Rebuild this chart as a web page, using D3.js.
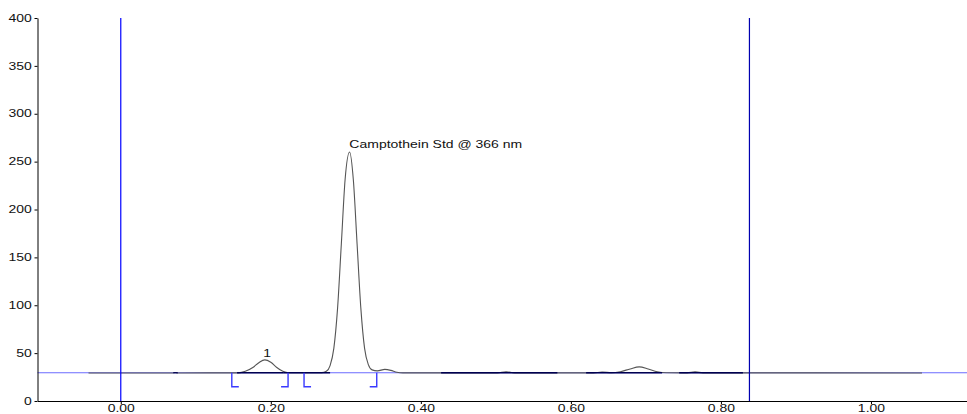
<!DOCTYPE html>
<html>
<head>
<meta charset="utf-8">
<script src="https://cdn.jsdelivr.net/npm/d3@7"></script>
<style>
  body { margin: 0; background: #fff; }
  svg { display: block; font-family: "Liberation Sans", Arial, sans-serif; }
</style>
</head>
<body>
<div id="chart"></div>
<script>
// Chromatogram trace (time in min, signal in mAU)
const traceTime = [
  -0.043, 0.069, 0.0725, 0.076, 0.157, 0.166, 0.176, 0.184, 0.192, 0.200, 0.208, 0.216, 0.224,
  0.268, 0.274, 0.279, 0.284, 0.289, 0.294, 0.299, 0.305, 0.310, 0.315, 0.320, 0.325, 0.330,
  0.335, 0.342, 0.352, 0.360, 0.368, 0.376, 0.502, 0.5136, 0.525, 0.630, 0.6416, 0.654,
  0.666, 0.679, 0.691, 0.703, 0.715, 0.727, 0.755, 0.7656, 0.776, 1.068
];
const traceSignal = [
  29.3, 29.3, 29.8, 29.3, 29.4, 31, 35, 40, 43, 40.5, 35, 31, 29.5,
  29.6, 31, 37, 55, 97, 164, 231, 260, 231, 164, 97, 55, 38,
  32.5, 31.5, 33, 32, 30, 29.4, 29.4, 30.6, 29.4, 29.4, 30.3, 29.5,
  30.6, 33.5, 35.6, 33.5, 30.6, 29.5, 29.4, 30.4, 29.4, 29.3
];

// Baseline level and window markers
const baselineLevel = 29.5;
const windowLines = [0, 0.838];

// Peak integration marks: start "[" and end "]"
const bracketTimes = [0.148, 0.223, 0.2443, 0.3412];
const bracketSides = ["start", "end", "start", "end"];

// Integrated baseline segments
const segStart = [0.070, 0.155, 0.2165, 0.427, 0.6203, 0.7443];
const segEnd = [0.076, 0.2165, 0.279, 0.582, 0.7216, 0.8293];

// Peak labels
const peakNames = ["1", "Camptothein Std @ 366 nm"];
const peakTimes = [0.195, 0.3047];
const peakLabelValues = [45.5, 264.5];

// Tick values
const xTicks = [0, 0.2, 0.4, 0.6, 0.8, 1.0];
const yTicks = [0, 50, 100, 150, 200, 250, 300, 350, 400];

const width = 967;
const height = 414;
const stretch = 1.4; // text in the source is wider than tall

const svg = d3
  .select("#chart")
  .append("svg")
  .attr("width", width)
  .attr("height", height);

const x = d3.scaleLinear().domain([-0.111, 1.128]).range([37.5, 967]);
const y = d3.scaleLinear().domain([0, 400]).range([401, 18]);

// full width baseline
svg
  .append("line")
  .attr("x1", x.range()[0])
  .attr("x2", x.range()[1])
  .attr("y1", y(baselineLevel))
  .attr("y2", y(baselineLevel))
  .attr("stroke", "#6b6bff")
  .attr("stroke-width", 1.2);

// trace
const line = d3
  .line()
  .x((d, i) => x(traceTime[i]))
  .y((d) => y(d))
  .curve(d3.curveMonotoneX);

svg
  .append("path")
  .datum(traceSignal)
  .attr("d", line)
  .attr("fill", "none")
  .attr("stroke", "#555")
  .attr("stroke-width", 1.1);

// integrated baseline segments
svg
  .selectAll(".seg")
  .data(segStart)
  .enter()
  .append("line")
  .attr("class", "seg")
  .attr("x1", (d) => x(d))
  .attr("x2", (d, i) => x(segEnd[i]))
  .attr("y1", y(baselineLevel))
  .attr("y2", y(baselineLevel))
  .attr("stroke", "#000050")
  .attr("stroke-width", 1.3);

// window lines
svg
  .selectAll(".win")
  .data(windowLines)
  .enter()
  .append("line")
  .attr("class", "win")
  .attr("x1", (d) => x(d))
  .attr("x2", (d) => x(d))
  .attr("y1", y(400))
  .attr("y2", y(0))
  .attr("stroke", (d, i) => (i === 0 ? "#0000ff" : "#0000b0"))
  .attr("stroke-width", 1.2);

// brackets
const drop = 14;
const arm = 7;
svg
  .selectAll(".bracket")
  .data(bracketTimes)
  .enter()
  .append("path")
  .attr("class", "bracket")
  .attr("d", (d, i) => {
    const bx = x(d);
    const by = y(baselineLevel);
    const dir = bracketSides[i] === "start" ? 1 : -1;
    return `M${bx},${by}V${by + drop}H${bx + dir * arm}`;
  })
  .attr("fill", "none")
  .attr("stroke", "#3a3aff")
  .attr("stroke-width", 1.4);

// axes
const xAxis = d3
  .axisBottom(x)
  .tickValues(xTicks)
  .tickFormat(d3.format(".2f"))
  .tickSize(3)
  .tickSizeOuter(0)
  .tickPadding(1);

const yAxis = d3
  .axisLeft(y)
  .tickValues(yTicks)
  .tickSize(3)
  .tickSizeOuter(0)
  .tickPadding(1);

const gx = svg.append("g").attr("transform", `translate(0,${y(0)})`).call(xAxis);
const gy = svg.append("g").attr("transform", `translate(${x.range()[0]},0)`).call(yAxis);

[gx, gy].forEach((g) => {
  g.select(".domain").attr("stroke", "#000");
  g.selectAll(".tick line").attr("stroke", "#000");
  g.selectAll(".tick text")
    .attr("fill", "#111")
    .style("font-size", "10px")
    .attr("transform", `scale(${stretch},1)`);
});

// peak labels
svg
  .selectAll(".peak-label")
  .data(peakNames)
  .enter()
  .append("text")
  .attr("class", "peak-label")
  .attr("transform", (d, i) => `translate(${x(peakTimes[i])},${y(peakLabelValues[i])}) scale(${stretch},1)`)
  .attr("text-anchor", (d, i) => (i === 0 ? "middle" : "start"))
  .style("font-size", "10px")
  .attr("fill", "#111")
  .text((d) => d);
</script>
</body>
</html>
